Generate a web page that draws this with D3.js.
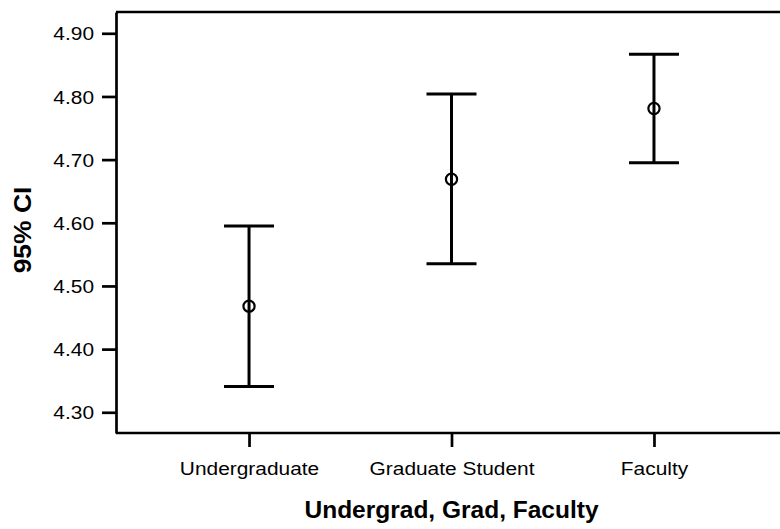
<!DOCTYPE html>
<html>
<head>
<meta charset="utf-8">
<script src="https://cdn.jsdelivr.net/npm/d3@7"></script>
<style>
  html, body { margin: 0; padding: 0; background: #fff; }
  svg { display: block; font-family: Arial, "Liberation Sans", sans-serif; }
</style>
</head>
<body>
<svg id="chart" width="780" height="529"></svg>
<script>
// data
const categories = ["Undergraduate", "Graduate Student", "Faculty"];
const means = [4.468, 4.669, 4.781];
const lower = [4.341, 4.535, 4.695];
const upper = [4.595, 4.804, 4.867];
const yTicks = [4.30, 4.40, 4.50, 4.60, 4.70, 4.80, 4.90];
const yDomain = [4.2672, 4.9337];
const xTitle = "Undergrad, Grad, Faculty";
const yTitle = "95% CI";

const W = 780, H = 529;
const plotLeft = 116, plotTop = 12, plotBottom = 433;
const stretch = 1.13; // reference tick text is drawn a bit wide

const svg = d3.select("#chart");

const x = d3.scalePoint()
  .domain(categories)
  .range([plotLeft, 787])
  .padding(0.657);

const y = d3.scaleLinear()
  .domain(yDomain)
  .range([plotBottom, plotTop]);

// frame: top line runs off the right edge
svg.append("line")
  .attr("x1", plotLeft).attr("x2", W)
  .attr("y1", plotTop).attr("y2", plotTop)
  .attr("stroke", "#000").attr("stroke-width", 2.7);

// y axis
const yAxis = svg.append("g")
  .attr("transform", `translate(${plotLeft},0)`)
  .call(d3.axisLeft(y).tickValues(yTicks).tickFormat(d3.format(".2f"))
    .tickSize(14).tickSizeOuter(0));
yAxis.select(".domain").attr("stroke-width", 2.7);
yAxis.selectAll(".tick line").attr("stroke-width", 2.7);
yAxis.selectAll(".tick text")
  .attr("x", -22 / stretch)
  .attr("dy", "0.36em")
  .attr("font-size", 18.5)
  .attr("fill", "#000")
  .attr("font-family", "Arial, 'Liberation Sans', sans-serif")
  .attr("transform", `scale(${stretch},1)`);

// x axis
const xAxis = svg.append("g")
  .attr("transform", `translate(0,${plotBottom})`)
  .call(d3.axisBottom(x).tickSize(14).tickSizeOuter(0));
xAxis.select(".domain")
  .attr("d", `M${plotLeft},0H${W}`)
  .attr("stroke-width", 2.7);
xAxis.selectAll(".tick line").attr("stroke-width", 2.7);
xAxis.selectAll(".tick text")
  .attr("y", 42).attr("dy", 0)
  .attr("font-size", 18.5)
  .attr("fill", "#000")
  .attr("font-family", "Arial, 'Liberation Sans', sans-serif")
  .attr("transform", `scale(${stretch},1)`);

// error bars
const capHalf = 25;
const bars = svg.append("g").selectAll("g")
  .data(categories)
  .join("g");

bars.append("line")
  .attr("x1", d => x(d)).attr("x2", d => x(d))
  .attr("y1", (d, i) => y(upper[i])).attr("y2", (d, i) => y(lower[i]))
  .attr("stroke", "#000").attr("stroke-width", 3);

bars.append("line")
  .attr("x1", d => x(d) - capHalf).attr("x2", d => x(d) + capHalf)
  .attr("y1", (d, i) => y(upper[i])).attr("y2", (d, i) => y(upper[i]))
  .attr("stroke", "#000").attr("stroke-width", 3);

bars.append("line")
  .attr("x1", d => x(d) - capHalf).attr("x2", d => x(d) + capHalf)
  .attr("y1", (d, i) => y(lower[i])).attr("y2", (d, i) => y(lower[i]))
  .attr("stroke", "#000").attr("stroke-width", 3);

bars.append("circle")
  .attr("cx", d => x(d))
  .attr("cy", (d, i) => y(means[i]))
  .attr("r", 5.6)
  .attr("fill", "none")
  .attr("stroke", "#000").attr("stroke-width", 2.2);

// titles
svg.append("text")
  .attr("transform", `translate(${(plotLeft + 787) / 2},518)`)
  .attr("text-anchor", "middle")
  .attr("font-size", 24.5)
  .attr("font-weight", "bold")
  .text(xTitle);

svg.append("text")
  .attr("transform", `translate(31,230) rotate(-90) scale(1.08,1)`)
  .attr("text-anchor", "middle")
  .attr("font-size", 24.5)
  .attr("font-weight", "bold")
  .text(yTitle);
</script>
</body>
</html>
